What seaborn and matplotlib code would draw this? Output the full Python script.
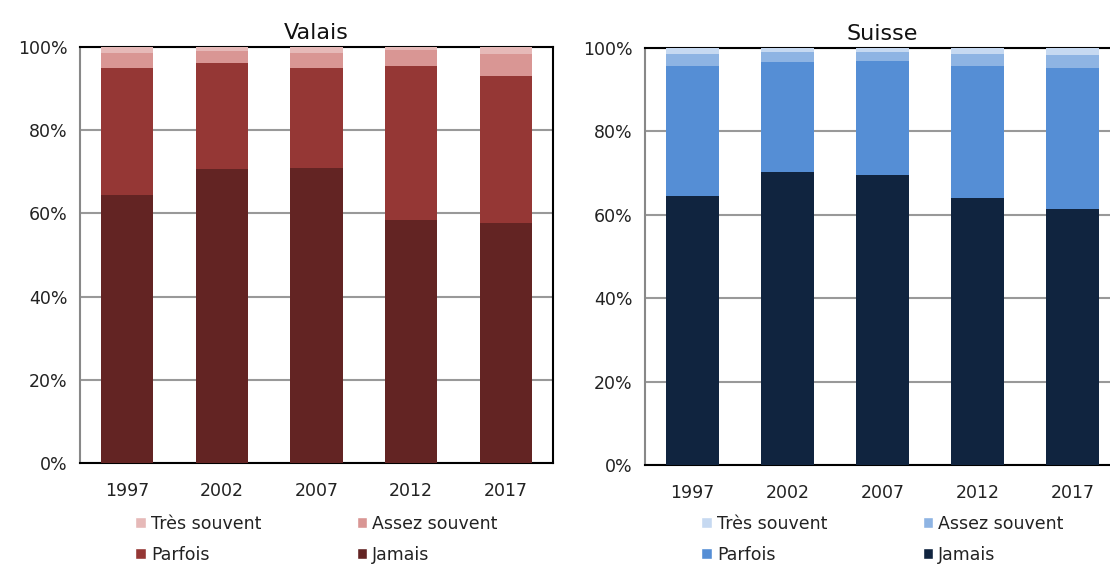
import numpy as np
import pandas as pd
import seaborn as sns
import matplotlib.pyplot as plt
from matplotlib.patches import Patch

years = ["1997", "2002", "2007", "2012", "2017"]
categories = ["Jamais", "Parfois", "Assez souvent", "Très souvent"]

# shares in %, bottom to top
valais_jamais = [64.4, 70.6, 70.9, 58.4, 57.8]
valais_parfois = [30.5, 25.5, 24.0, 37.1, 35.2]
valais_assez = [3.7, 2.9, 3.7, 3.8, 5.3]
valais_tres = [1.4, 1.0, 1.4, 0.7, 1.7]

suisse_jamais = [64.4, 70.2, 69.5, 64.0, 61.3]
suisse_parfois = [31.4, 26.5, 27.5, 31.8, 33.8]
suisse_assez = [2.8, 2.3, 2.0, 2.7, 3.2]
suisse_tres = [1.4, 1.0, 1.0, 1.5, 1.7]

red_colors = ["#632423", "#953735", "#D99694", "#E6B9B8"]
blue_colors = ["#10243F", "#558ED5", "#8EB4E3", "#C6D9F1"]

sns.set_style("white")
plt.rcParams["font.family"] = ["DejaVu Sans"]

fig = plt.figure(figsize=(11.1, 5.65), dpi=100)
ax1 = fig.add_axes([80 / 1110, 1 - 463 / 565, 473 / 1110, 416 / 565])
ax2 = fig.add_axes([645 / 1110, 1 - 465 / 565, 475 / 1110, 417 / 565])


def draw(ax, series, colors, title, leg_y):
    df = pd.DataFrame(dict(zip(categories, series)), index=years)
    cum = df.cumsum(axis=1)
    # overlay cumulative totals, tallest first
    for cat, col in reversed(list(zip(categories, colors))):
        sns.barplot(x=years, y=cum[cat].values, color=col, width=0.55,
                    saturation=1, edgecolor="none", ax=ax, zorder=3)
    ax.set_ylim(0, 100)
    ax.set_xlim(-0.5, 4.5)
    ax.set_yticks([0, 20, 40, 60, 80, 100])
    ax.set_yticklabels([f"{v}%" for v in range(0, 101, 20)], fontsize=12.5)
    ax.tick_params(axis="x", labelsize=12.5, length=0, pad=14, labelcolor="#222222")
    ax.tick_params(axis="y", length=5, width=1.5, color="#888888", direction="out",
                   pad=4, labelcolor="#222222")
    ax.grid(axis="y", color="#999999", linewidth=1.5, zorder=0)
    ax.set_axisbelow(True)
    for s in ["top", "right", "bottom"]:
        ax.spines[s].set_color("black")
        ax.spines[s].set_linewidth(1.5)
    ax.spines["left"].set_color("#888888")
    ax.spines["left"].set_linewidth(1.5)
    ax.set_title(title, fontsize=16, pad=6, color="#111111")
    handles = [Patch(facecolor=c, label=l) for c, l in zip(colors, categories)]
    order = [3, 1, 2, 0]
    leg = ax.legend([handles[i] for i in order], [categories[i] for i in order],
                    ncol=2, loc="upper center", bbox_to_anchor=(0.5, leg_y),
                    frameon=False, fontsize=12.5, handlelength=0.6, handleheight=0.6,
                    handletextpad=0.3, columnspacing=5.5, labelspacing=0.75,
                    borderpad=0.2)
    for t in leg.get_texts():
        t.set_color("#222222")


draw(ax1, [valais_jamais, valais_parfois, valais_assez, valais_tres], red_colors, "Valais", -0.095)
draw(ax2, [suisse_jamais, suisse_parfois, suisse_assez, suisse_tres], blue_colors, "Suisse", -0.09)

fig.savefig("out.png", dpi=100)
